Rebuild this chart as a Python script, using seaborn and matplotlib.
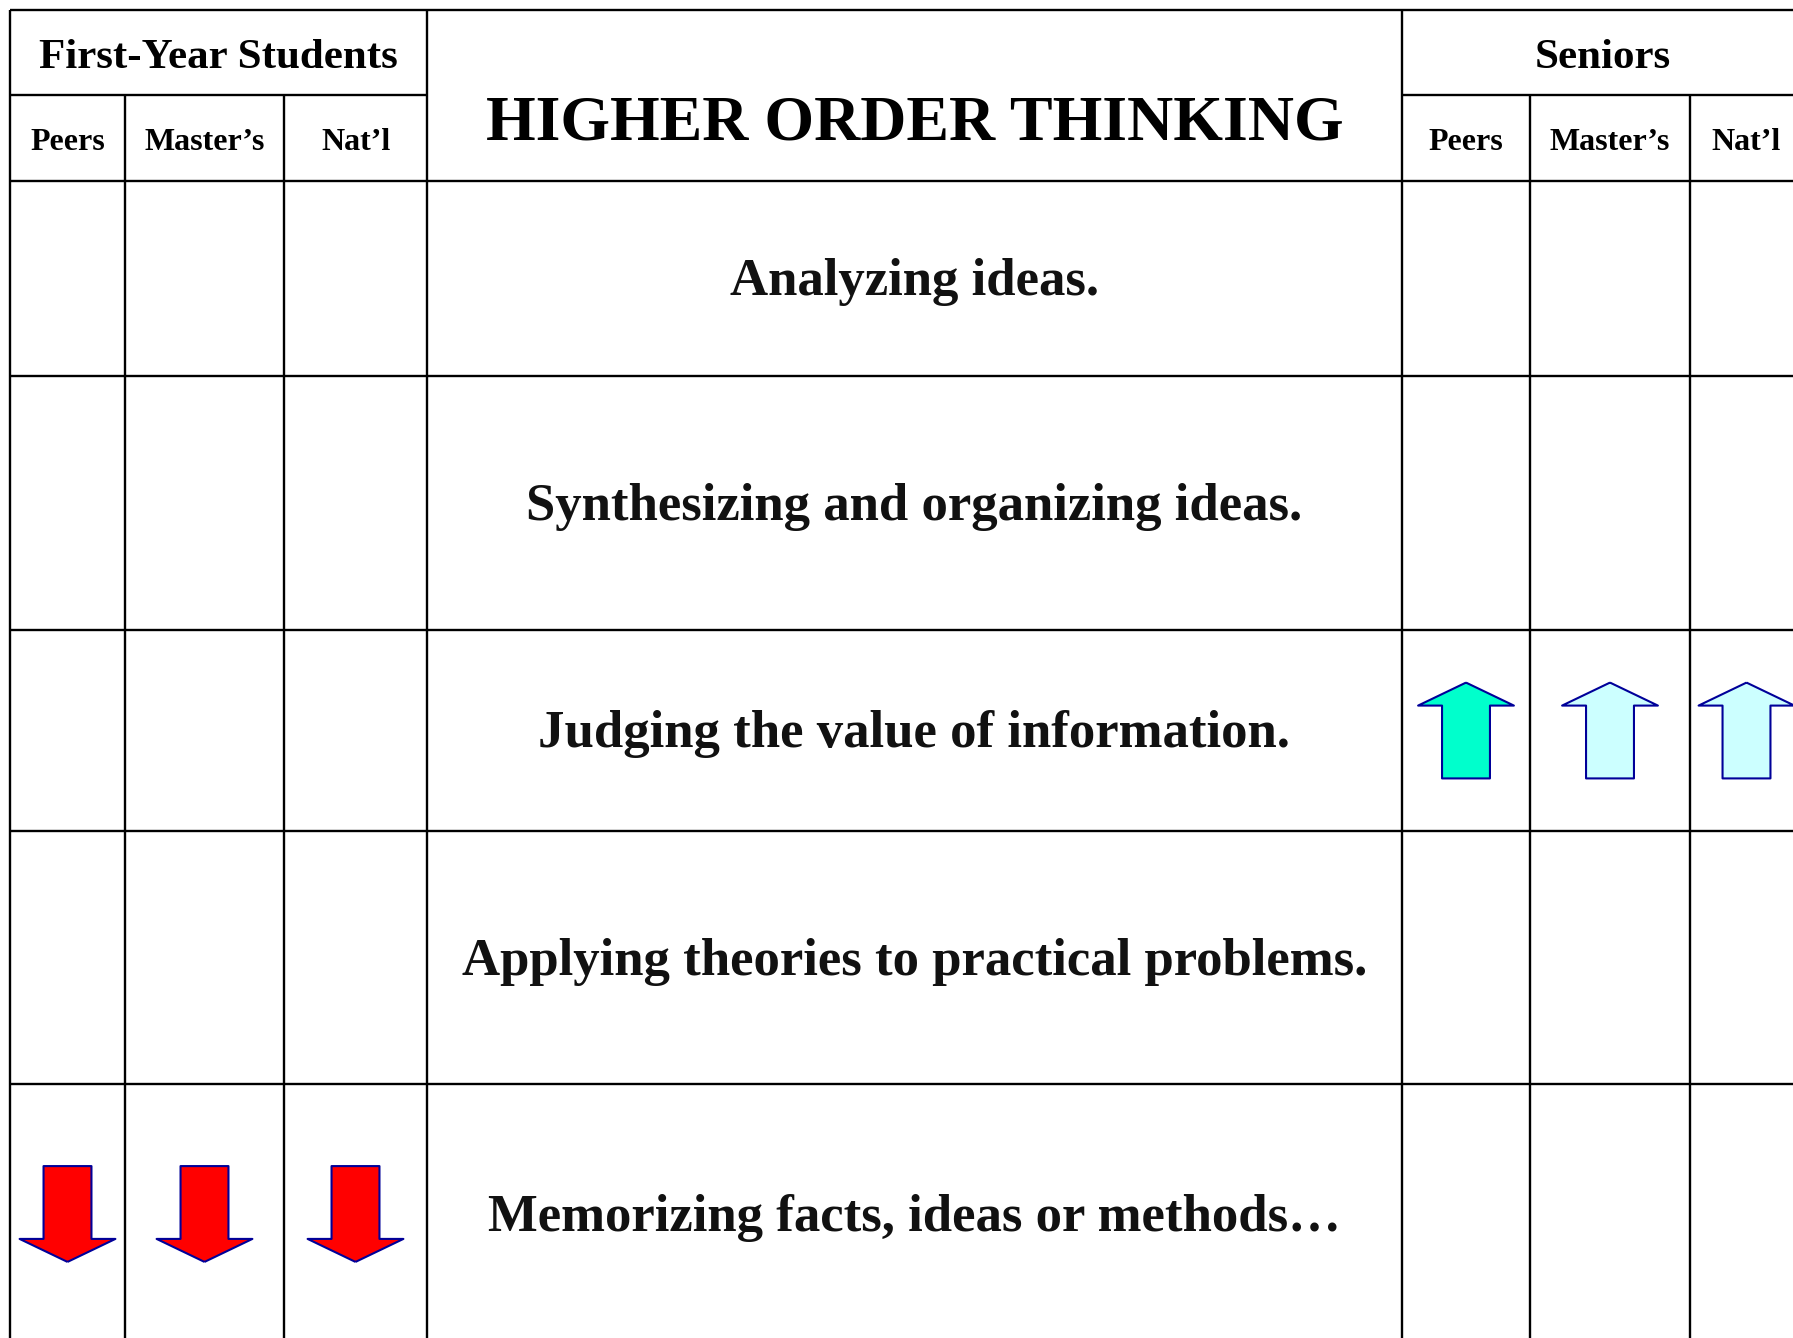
import matplotlib
matplotlib.use("Agg")
import matplotlib.pyplot as plt
import seaborn as sns
import pandas as pd

# ---- data ----
title = "HIGHER ORDER THINKING"
cohorts = ["First-Year Students", "Seniors"]
groups = ["Peers", "Master’s", "Nat’l"]
items = [
    "Analyzing ideas.",
    "Synthesizing and organizing ideas.",
    "Judging the value of information.",
    "Applying theories to practical problems.",
    "Memorizing facts, ideas or methods…",
]
# comparison result per item and comparison group
# 0 = no difference, 2 = higher (strong), 1 = higher (weak), -1 = lower
first_year = [[0, 0, 0], [0, 0, 0], [0, 0, 0], [0, 0, 0], [-1, -1, -1]]
seniors = [[0, 0, 0], [0, 0, 0], [2, 1, 1], [0, 0, 0], [0, 0, 0]]

arrow_colors = {2: "#00FFCC", 1: "#CCFFFF", -1: "#FF0000"}

# ---- layout (pixel coordinates) ----
W, H = 1793, 1338
fy_cols = [10, 125, 284, 427]
sr_cols = [1402, 1530, 1690, 1803]
row_edges = [181, 376, 630, 831, 1084, 1344]
top, split = 10, 95

sns.set_style("white")
plt.rcParams['font.family'] = ['Liberation Serif', 'DejaVu Serif']
plt.rcParams['text.color'] = 'black'

fig = plt.figure(figsize=(W / 100, H / 100), dpi=100)
ax = fig.add_axes([0, 0, 1, 1])

lw = 1.7
bottom = row_edges[-1]
left, right = fy_cols[0], sr_cols[-1]

# horizontal rules
ax.hlines([top] + row_edges, left, right, color='black', lw=lw)
ax.hlines(split, fy_cols[0], fy_cols[-1], color='black', lw=lw)
ax.hlines(split, sr_cols[0], sr_cols[-1], color='black', lw=lw)
# vertical rules
ax.vlines([left, fy_cols[-1], sr_cols[0], right], top, bottom, color='black', lw=lw)
ax.vlines(fy_cols[1:-1] + sr_cols[1:-1], split, bottom, color='black', lw=lw)

# header text
mid_x = (fy_cols[-1] + sr_cols[0]) / 2
ax.text(mid_x, 139, title, ha='center', va='baseline', fontsize=46, fontweight='bold')
for cols, name in [(fy_cols, cohorts[0]), (sr_cols, cohorts[1])]:
    ax.text((cols[0] + cols[-1]) / 2, 68, name, ha='center', va='baseline',
            fontsize=31, fontweight='bold')
    for i, g in enumerate(groups):
        ax.text((cols[i] + cols[i + 1]) / 2, 150, g, ha='center', va='baseline',
                fontsize=23, fontweight='bold')

# item labels
for r, label in enumerate(items):
    yc = (row_edges[r] + row_edges[r + 1]) / 2
    ax.text(mid_x, yc + 17, label, ha='center', va='baseline',
            fontsize=38, fontweight='bold', color='#111111')

# arrows
records = []
for cols, res in [(fy_cols, first_year), (sr_cols, seniors)]:
    for r, vals in enumerate(res):
        for c, v in enumerate(vals):
            if v == 0:
                continue
            records.append({
                'x': (cols[c] + cols[c + 1]) / 2,
                'y': (row_edges[r] + row_edges[r + 1]) / 2,
                'result': v,
                'direction': 'up' if v > 0 else 'down',
            })
arrows = pd.DataFrame(records)

up_arrow = [(0, 1), (1, 0.52), (0.5, 0.52), (0.5, -1), (-0.5, -1),
            (-0.5, 0.52), (-1, 0.52), (0, 1)]
down_arrow = [(x, -y) for x, y in up_arrow]

sns.scatterplot(data=arrows, x='x', y='y', hue='result', palette=arrow_colors,
                style='direction', markers={'up': up_arrow, 'down': down_arrow},
                s=69 ** 2, edgecolor='#000099', linewidth=1.5, legend=False, ax=ax)
ax.set_xlim(0, W)
ax.set_ylim(H, 0)
ax.axis('off')

fig.savefig('out.png', dpi=100, facecolor='white')
